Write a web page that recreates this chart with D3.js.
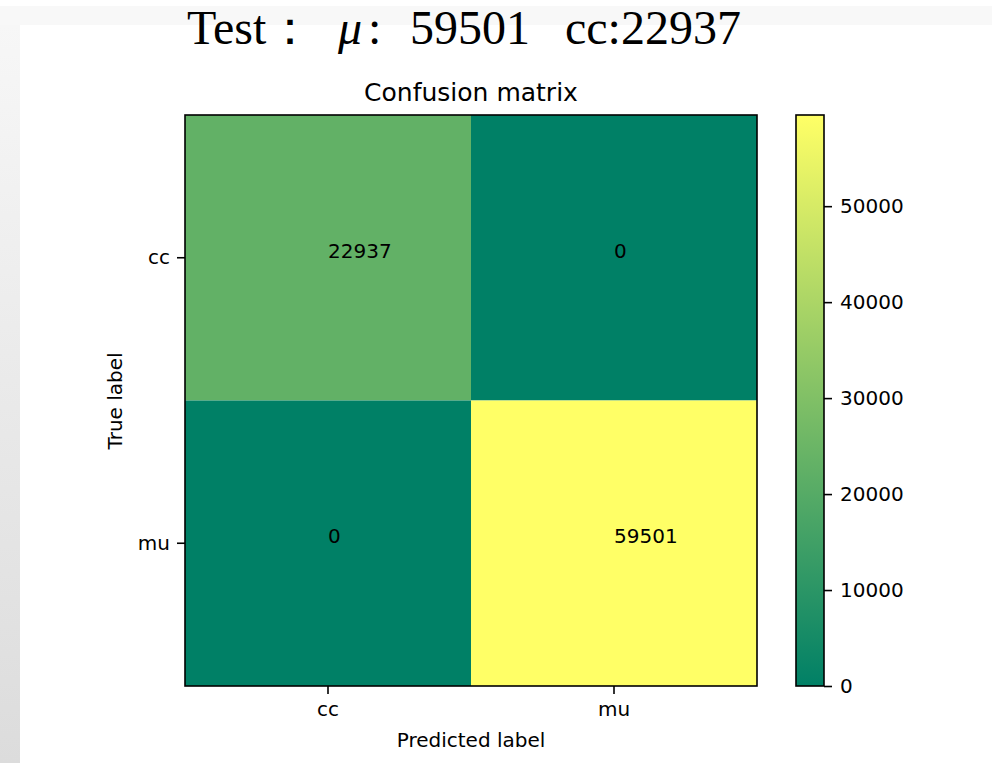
<!DOCTYPE html>
<html>
<head>
<meta charset="utf-8">
<script src="https://cdn.jsdelivr.net/npm/d3@7"></script>
<style>
  body { margin: 0; background: #fff; }
  svg { display: block; }
  text { font-family: "DejaVu Sans", sans-serif; fill: #000; }
</style>
</head>
<body>
<svg width="992" height="763"></svg>
<script>
const classes = ["cc", "mu"];
const matrix = [[22937, 0], [0, 59501]];
const cbTicks = [0, 10000, 20000, 30000, 40000, 50000];
const vmax = 59501;

const svg = d3.select("svg");
const defs = svg.append("defs");

// screenshot backdrop
const side = defs.append("linearGradient").attr("id", "side")
    .attr("x1", 0).attr("y1", 0).attr("x2", 0).attr("y2", 1);
side.append("stop").attr("offset", 0).attr("stop-color", "#f7f7f7");
side.append("stop").attr("offset", 1).attr("stop-color", "#dcdcdc");
svg.append("rect").attr("x", 0).attr("y", 6).attr("width", 992).attr("height", 19).attr("fill", "#f8f8f8");
svg.append("rect").attr("x", 0).attr("y", 25).attr("width", 20).attr("height", 738).attr("fill", "url(#side)");

// heading pasted above the figure
const head = svg.append("text").attr("y", 44)
    .style("font-family", "'Liberation Serif', serif")
    .style("font-size", "48px");
const parts = [
  {s: "Test", x: 187}, {s: "：", x: 266}, {s: "μ", x: 338, it: true},
  {s: ":", x: 368}, {s: "59501", x: 410}, {s: "cc:22937", x: 565}
];
head.selectAll("tspan").data(parts).join("tspan")
    .attr("x", d => d.x)
    .attr("font-style", d => d.it ? "italic" : null)
    .text(d => d.s);

const x = d3.scaleBand().domain(classes).range([185, 757]);
const y = d3.scaleBand().domain(classes).range([115, 686]);
const color = d3.scaleLinear().domain([0, vmax]).range(["#008066", "#ffff66"]).interpolate(d3.interpolateRgb);

const cells = [];
matrix.forEach((row, i) => row.forEach((v, j) => cells.push({t: classes[i], p: classes[j], v})));

svg.append("g").selectAll("rect").data(cells).join("rect")
    .attr("x", d => x(d.p)).attr("y", d => y(d.t))
    .attr("width", x.bandwidth()).attr("height", y.bandwidth())
    .attr("fill", d => color(d.v));

svg.append("g").selectAll("text").data(cells).join("text")
    .attr("x", d => x(d.p) + x.bandwidth() / 2)
    .attr("y", d => y(d.t) + y.bandwidth() / 2)
    .style("font-size", "20px")
    .text(d => d.v);

svg.append("rect").attr("x", 185).attr("y", 115).attr("width", 572).attr("height", 571)
    .attr("fill", "none").attr("stroke", "#000").attr("stroke-width", 1.6);

const xAxis = svg.append("g").attr("transform", "translate(0,686)")
    .call(d3.axisBottom(x).tickSize(8).tickPadding(8));
const yAxis = svg.append("g").attr("transform", "translate(185,0)")
    .call(d3.axisLeft(y).tickSize(8).tickPadding(7));
[xAxis, yAxis].forEach(a => {
  a.select(".domain").remove();
  a.selectAll("line").attr("stroke", "#000").attr("stroke-width", 1.6);
  a.selectAll("text").style("font-size", "20px").style("font-family", "'DejaVu Sans', sans-serif").attr("fill", "#000");
});

svg.append("text").attr("x", 471).attr("y", 101).attr("text-anchor", "middle")
    .style("font-size", "25px").text("Confusion matrix");
svg.append("text").attr("x", 471).attr("y", 747).attr("text-anchor", "middle")
    .style("font-size", "20px").text("Predicted label");
svg.append("text").attr("transform", "translate(122,401) rotate(-90)").attr("text-anchor", "middle")
    .style("font-size", "20px").text("True label");

// colorbar
const cb = defs.append("linearGradient").attr("id", "cb")
    .attr("x1", 0).attr("y1", 1).attr("x2", 0).attr("y2", 0);
cb.append("stop").attr("offset", 0).attr("stop-color", color(0));
cb.append("stop").attr("offset", 1).attr("stop-color", color(vmax));
const cy = d3.scaleLinear().domain([0, vmax]).range([686, 115]);
svg.append("rect").attr("x", 796).attr("y", 115).attr("width", 28).attr("height", 571)
    .attr("fill", "url(#cb)").attr("stroke", "#000").attr("stroke-width", 1.6);
const cAxis = svg.append("g").attr("transform", "translate(824,0)")
    .call(d3.axisRight(cy).tickValues(cbTicks).tickFormat(d3.format("d")).tickSize(8).tickPadding(8));
cAxis.select(".domain").remove();
cAxis.selectAll("line").attr("stroke", "#000").attr("stroke-width", 1.6);
cAxis.selectAll("text").style("font-size", "20px").style("font-family", "'DejaVu Sans', sans-serif").attr("fill", "#000");
</script>
</body>
</html>
